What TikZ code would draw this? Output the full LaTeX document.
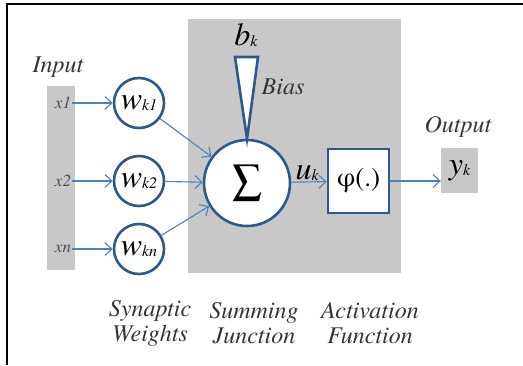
\documentclass[tikz,border=0pt]{standalone}
\usepackage{fontspec}
\setmainfont{texgyretermes}[Extension=.otf,UprightFont=*-regular,ItalicFont=*-italic,
  BoldFont=*-bold,BoldItalicFont=*-bolditalic]
\usetikzlibrary{arrows.meta,positioning}
\definecolor{lineblue}{RGB}{79,129,189}
\definecolor{ringblue}{RGB}{47,88,138}
\definecolor{boxgray}{RGB}{200,200,200}
\newcommand{\lblsub}[2]{{\fontsize{32}{32}\selectfont #1}\raisebox{-1pt}{\fontsize{16}{16}\selectfont #2}}

\begin{document}
\begin{tikzpicture}[x=1pt,y=-1pt,->,>={Straight Barb[length=7pt,width=13pt]},
                    font=\itshape]
\tikzstyle{caption}=[font=\fontsize{24}{25}\selectfont\itshape,align=center,text=black!80]
\tikzstyle{inp}=[font=\fontsize{17}{17}\selectfont\itshape,text=black!70,inner sep=1pt]
\tikzstyle{weight}=[circle,line width=2.6pt,draw=ringblue,fill=white,minimum size=50pt,inner sep=0pt]
\tikzstyle{summer}=[circle,line width=2.6pt,draw=ringblue,fill=white,minimum size=86pt,inner sep=0pt]
\tikzstyle{act}=[rectangle,line width=2.6pt,draw=ringblue,fill=white,minimum width=61pt,minimum height=64pt]
\tikzstyle{shade}=[rectangle,fill=boxgray,inner sep=0pt]
\tikzstyle{conn}=[lineblue,line width=1.1pt]

\useasboundingbox (0,0) rectangle (523,365);

% frame
\draw[-,line width=2.2pt] (7,365) -- (7,4) -- (523,4);

% grey backgrounds
\node[shade,minimum width=28pt,minimum height=184pt] (inbar) at (61,178) {};
\node[shade,minimum width=213pt,minimum height=254pt] (sumbox) at (294.5,146) {};
\node[shade,minimum width=37pt,minimum height=45pt] (ybox) at (459.5,170.5) {};

\node[caption] (inlabel) at (58,67) {Input};
\node[caption] (outlabel) at (458,127) {Output};

\node[inp] (x1) at (63,103) {x1};
\node[inp] (x2) at (63,181) {x2};
\node[inp] (xn) at (63,249) {xn};

\node[weight] (wk1) at (139,103) {\lblsub{w}{k1}};
\node[weight] (wk2) at (139,181) {\lblsub{w}{k2}};
\node[weight] (wkn) at (139,249) {\lblsub{w}{kn}};

\node[summer] (sum) at (247,183) {\upshape\fontsize{42}{42}\selectfont ∑};
\node[act] (phi) at (358.5,181) {\upshape\fontsize{27}{27}\selectfont φ(.)};
\node (yk) at (ybox) {\lblsub{y}{k}};

% bias
\node (bk) at (246,35) {\lblsub{b}{k}};
\node[caption] (bias) at (283,87) {Bias};
\draw[-,line width=2.6pt,draw=ringblue,fill=white,line join=miter]
  (235,57) -- (258,57) -- (sum.north) -- cycle;

\node[caption] (synlabel) at (150,323) {Synaptic\\Weights};
\node[caption] (sumlabel) at (254,323) {Summing\\Junction};
\node[caption] (actlabel) at (370,323) {Activation\\Function};

\draw[conn] (x1) -- (wk1);
\draw[conn] (x2) -- (wk2);
\draw[conn] (xn) -- (wkn);
\draw[conn] (wk1) -- (sum);
\draw[conn] (wk2) -- (sum);
\draw[conn] (wkn) -- (sum);
\draw[conn] (sum) -- node[above,pos=0.45,inner sep=1pt,text=black] {\lblsub{u}{k}} (phi);
\draw[conn] (phi.east) -- (phi.east -| ybox.west);
\end{tikzpicture}
\end{document}
